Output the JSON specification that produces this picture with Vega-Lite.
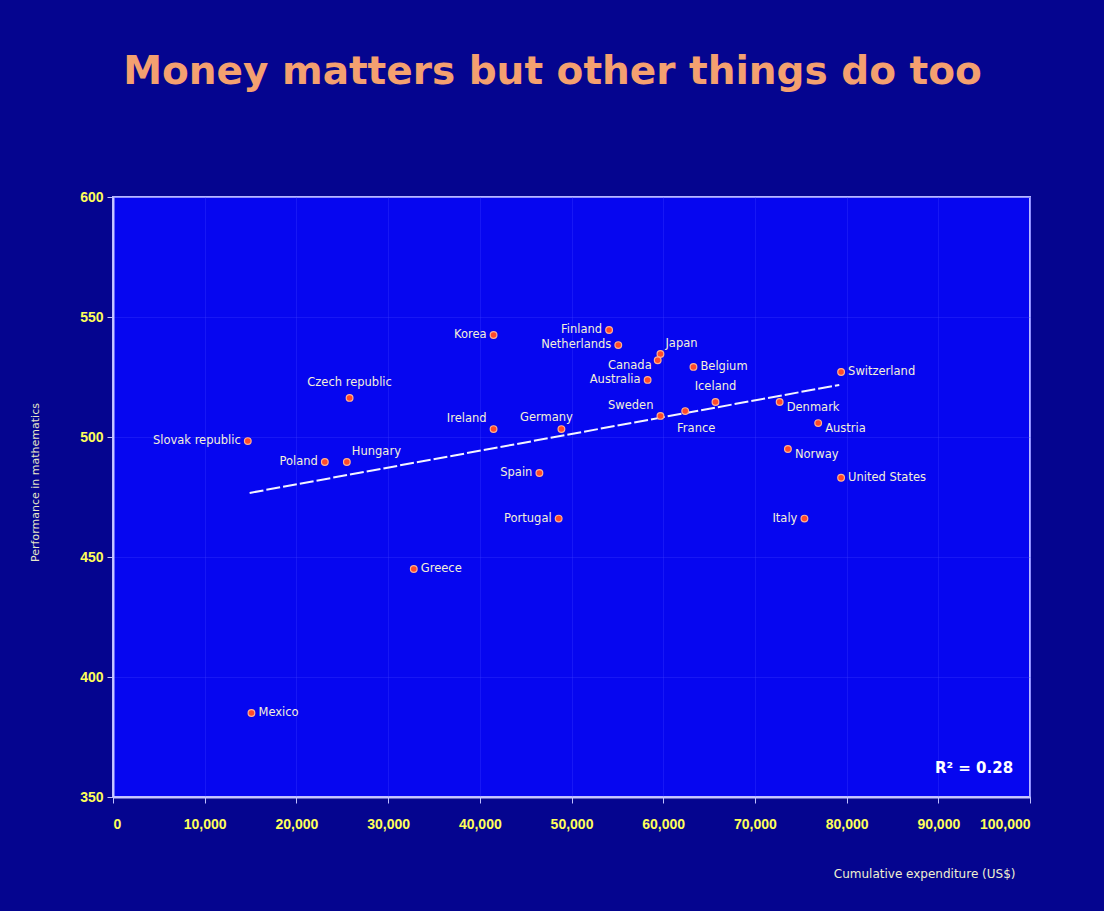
{
  "$schema": "https://vega.github.io/schema/vega-lite/v6.json",
  "autosize": "none",
  "width": 917,
  "height": 600,
  "padding": {"left": 113, "top": 197, "right": 74, "bottom": 114},
  "background": "#05058f",
  "title": {
    "text": "Money matters but other things do too",
    "fontSize": 39,
    "font": "DejaVu Sans",
    "fontWeight": "bold",
    "color": "#f4a070",
    "anchor": "middle",
    "dx": -19,
    "offset": 98
  },
  "config": {
    "view": {"fill": "#0606f0", "stroke": "#b8b8ff", "strokeWidth": 2},
    "text": {"font": "DejaVu Sans", "fontSize": 11.5, "color": "#f4f0d8", "baseline": "middle"}
  },
  "datasets": {
    "pts": [
      {"country": "Slovak republic", "exp": 14700, "math": 498.3},
      {"country": "Poland", "exp": 23100, "math": 489.6},
      {"country": "Hungary", "exp": 25500, "math": 489.6},
      {"country": "Czech republic", "exp": 25800, "math": 516.3},
      {"country": "Mexico", "exp": 15100, "math": 385},
      {"country": "Greece", "exp": 32800, "math": 445},
      {"country": "Korea", "exp": 41500, "math": 542.5},
      {"country": "Ireland", "exp": 41500, "math": 503.3},
      {"country": "Germany", "exp": 48900, "math": 503.3},
      {"country": "Spain", "exp": 46500, "math": 485},
      {"country": "Portugal", "exp": 48600, "math": 466},
      {"country": "Finland", "exp": 54100, "math": 544.6},
      {"country": "Netherlands", "exp": 55100, "math": 538.3},
      {"country": "Japan", "exp": 59700, "math": 534.6},
      {"country": "Canada", "exp": 59400, "math": 532},
      {"country": "Belgium", "exp": 63300, "math": 529.2},
      {"country": "Australia", "exp": 58300, "math": 523.8},
      {"country": "Iceland", "exp": 65700, "math": 514.6},
      {"country": "Sweden", "exp": 59700, "math": 508.8},
      {"country": "France", "exp": 62400, "math": 510.8},
      {"country": "Denmark", "exp": 72700, "math": 514.6},
      {"country": "Switzerland", "exp": 79400, "math": 527.1},
      {"country": "Austria", "exp": 76900, "math": 505.8},
      {"country": "Norway", "exp": 73600, "math": 495},
      {"country": "United States", "exp": 79400, "math": 483},
      {"country": "Italy", "exp": 75400, "math": 466}
    ],
    "trend": [
      {"exp": 14900, "math": 476.7},
      {"exp": 79200, "math": 521.7}
    ],
    "note": [
      {"label": "R² = 0.28", "exp": 93900, "math": 362}
    ]
  },
  "encoding": {
    "x": {
      "field": "exp", "type": "quantitative",
      "scale": {"domain": [0, 100000]},
      "axis": {
        "title": "Cumulative expenditure (US$)",
        "values": [0, 10000, 20000, 30000, 40000, 50000, 60000, 70000, 80000, 90000, 100000],
        "format": ",.0f",
        "labelColor": "#ffff5a", "labelFontSize": 14, "labelFontWeight": "bold", "labelFont": "Liberation Sans",
        "labelPadding": 14, "tickSize": 6, "tickColor": "#c0c0ff", "domainColor": "#c8c8ff", "domainWidth": 2,
        "grid": true, "gridColor": "#3a3aff", "gridOpacity": 0.35,
        "titleColor": "#f0f0d0", "titleFont": "DejaVu Sans", "titleFontSize": 12, "titleFontWeight": "normal",
        "titleX": 902, "titleY": 76, "titleAlign": "right", "titleBaseline": "middle", "titleAnchor": null
      }
    },
    "y": {
      "field": "math", "type": "quantitative",
      "scale": {"domain": [350, 600]},
      "axis": {
        "title": "Performance in mathematics",
        "values": [350, 400, 450, 500, 550, 600],
        "labelColor": "#ffff5a", "labelFontSize": 14, "labelFontWeight": "bold", "labelFont": "Liberation Sans",
        "labelPadding": 4, "tickSize": 6, "tickColor": "#c0c0ff", "domainColor": "#c8c8ff", "domainWidth": 2,
        "grid": true, "gridColor": "#3a3aff", "gridOpacity": 0.35,
        "titleColor": "#e8e8c8", "titleFont": "DejaVu Sans", "titleFontSize": 11, "titleFontWeight": "normal",
        "titleX": -78, "titleY": 285, "titleAngle": -90, "titleAlign": "center", "titleBaseline": "middle"
      }
    }
  },
  "layer": [
    {
      "data": {"name": "trend"},
      "mark": {"type": "line", "color": "#f4f4ff", "strokeWidth": 2, "strokeDash": [14, 3]}
    },
    {
      "data": {"name": "pts"},
      "mark": {"type": "circle", "size": 45, "fill": "#ff4a2a", "stroke": "#ffb090", "strokeWidth": 1.2, "opacity": 1}
    },
    {
      "data": {"name": "pts"},
      "transform": [{"filter": {"field": "country", "oneOf": ["Slovak republic", "Poland", "Korea", "Spain", "Portugal", "Italy", "Australia", "Netherlands", "Finland"]}}],
      "mark": {"type": "text", "align": "right", "dx": -7, "dy": 0},
      "encoding": {"text": {"field": "country"}}
    },
    {
      "data": {"name": "pts"},
      "transform": [{"filter": {"field": "country", "oneOf": ["Mexico", "Greece", "Switzerland", "United States", "Belgium"]}}],
      "mark": {"type": "text", "align": "left", "dx": 7, "dy": 0},
      "encoding": {"text": {"field": "country"}}
    },
    {
      "data": {"name": "pts"},
      "transform": [{"filter": {"field": "country", "oneOf": ["Denmark", "Austria", "Norway"]}}],
      "mark": {"type": "text", "align": "left", "dx": 7, "dy": 6},
      "encoding": {"text": {"field": "country"}}
    },
    {
      "data": {"name": "pts"},
      "transform": [{"filter": {"field": "country", "oneOf": ["Hungary", "Japan"]}}],
      "mark": {"type": "text", "align": "left", "dx": 5, "dy": -10},
      "encoding": {"text": {"field": "country"}}
    },
    {
      "data": {"name": "pts"},
      "transform": [{"filter": {"field": "country", "oneOf": ["Ireland", "Sweden"]}}],
      "mark": {"type": "text", "align": "right", "dx": -7, "dy": -10},
      "encoding": {"text": {"field": "country"}}
    },
    {
      "data": {"name": "pts"},
      "transform": [{"filter": {"field": "country", "oneOf": ["Czech republic", "Iceland"]}}],
      "mark": {"type": "text", "align": "center", "dx": 0, "dy": -15},
      "encoding": {"text": {"field": "country"}}
    },
    {
      "data": {"name": "pts"},
      "transform": [{"filter": {"field": "country", "equal": "Germany"}}],
      "mark": {"type": "text", "align": "center", "dx": -15, "dy": -11},
      "encoding": {"text": {"field": "country"}}
    },
    {
      "data": {"name": "pts"},
      "transform": [{"filter": {"field": "country", "equal": "France"}}],
      "mark": {"type": "text", "align": "center", "dx": 11, "dy": 18},
      "encoding": {"text": {"field": "country"}}
    },
    {
      "data": {"name": "pts"},
      "transform": [{"filter": {"field": "country", "equal": "Canada"}}],
      "mark": {"type": "text", "align": "right", "dx": -6, "dy": 6},
      "encoding": {"text": {"field": "country"}}
    },
    {
      "data": {"name": "note"},
      "mark": {"type": "text", "align": "center", "fontSize": 15, "fontWeight": "bold", "color": "#ffffff"},
      "encoding": {"text": {"field": "label"}}
    }
  ]
}
